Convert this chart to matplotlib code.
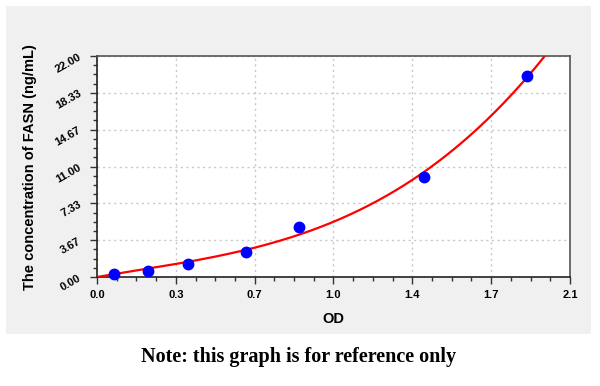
import numpy as np
import matplotlib
matplotlib.use("Agg")
import matplotlib.pyplot as plt
from matplotlib.patches import Rectangle
from matplotlib.ticker import FixedLocator, MultipleLocator

od = [0.075, 0.226, 0.405, 0.662, 0.897, 1.452, 1.909]
conc = [0.31, 0.63, 1.25, 2.50, 5.00, 10.00, 20.00]
xticks = [0.0, 0.35, 0.70, 1.05, 1.40, 1.75, 2.10]
xlabels = ["0.0", "0.3", "0.7", "1.0", "1.4", "1.7", "2.1"]
yticks = [0.0, 22/6, 44/6, 11.0, 88/6, 110/6, 22.0]
ylabels = ["0.00", "3.67", "7.33", "11.00", "14.67", "18.33", "22.00"]

W, H = 600, 386
fig = plt.figure(figsize=(6, 3.86), dpi=100)
fig.patch.set_facecolor("white")
fig.add_artist(Rectangle((6/W, 1-334/H), (591-6)/W, (334-6)/H,
                         transform=fig.transFigure, facecolor="#f0f0f0",
                         edgecolor="none", zorder=0))

ax = fig.add_axes([97/W, 1-277/H, (570-97)/W, (277-56)/H])
ax.set_facecolor("white")
ax.set_xlim(0, 2.1)
ax.set_ylim(0, 22)

# fitted curve (cubic through origin, least squares)
x = np.array(od); y = np.array(conc)
A = np.vstack([x, x**2, x**3]).T
coef, *_ = np.linalg.lstsq(A, y, rcond=None)
xs = np.linspace(0, 2.1, 400)
ys = coef[0]*xs + coef[1]*xs**2 + coef[2]*xs**3
ax.plot(xs, ys, color="red", lw=1.6, zorder=3, clip_on=True)
ax.plot(od, conc, "o", color="blue", markersize=7.5, zorder=4, clip_on=False)

ax.xaxis.set_major_locator(FixedLocator(xticks))
ax.yaxis.set_major_locator(FixedLocator(yticks))
ax.xaxis.set_minor_locator(MultipleLocator(0.0875))
ax.yaxis.set_minor_locator(MultipleLocator(22/24))
ax.set_xticklabels(xlabels, fontsize=8, fontweight="bold", family="Liberation Sans")
ax.set_yticklabels(ylabels, fontsize=8, fontweight="bold", family="Liberation Sans",
                   rotation=30, ha="right", va="center", rotation_mode="anchor")
ax.tick_params(which="major", direction="out", length=5, width=1, color="#333333", pad=4)
ax.tick_params(which="minor", direction="out", length=3, width=1, color="#333333")
ax.tick_params(axis="y", pad=7)

ax.grid(True, which="major", linestyle=(0, (1.5, 2.5)), color="#c8c8c8", lw=1)
for s in ["left", "bottom"]:
    ax.spines[s].set_color("#222222"); ax.spines[s].set_linewidth(1.2)
for s in ["top", "right"]:
    ax.spines[s].set_color("#555555"); ax.spines[s].set_linewidth(1.2)

fig.text(333/W, 1-319/H, "OD", ha="center", va="center", fontsize=10.5,
         fontweight="bold", family="Liberation Sans")
fig.text(30/W, 1-167/H, "The concentration of FASN (ng/mL)", ha="center", va="center",
         rotation=90, fontsize=10.5, fontweight="bold", family="Liberation Sans")
fig.text(299/W, 1-357/H, "Note: this graph is for reference only", ha="center",
         va="center", fontsize=14.5, fontweight="bold", family="Liberation Serif")

fig.savefig("out.png", dpi=100)
